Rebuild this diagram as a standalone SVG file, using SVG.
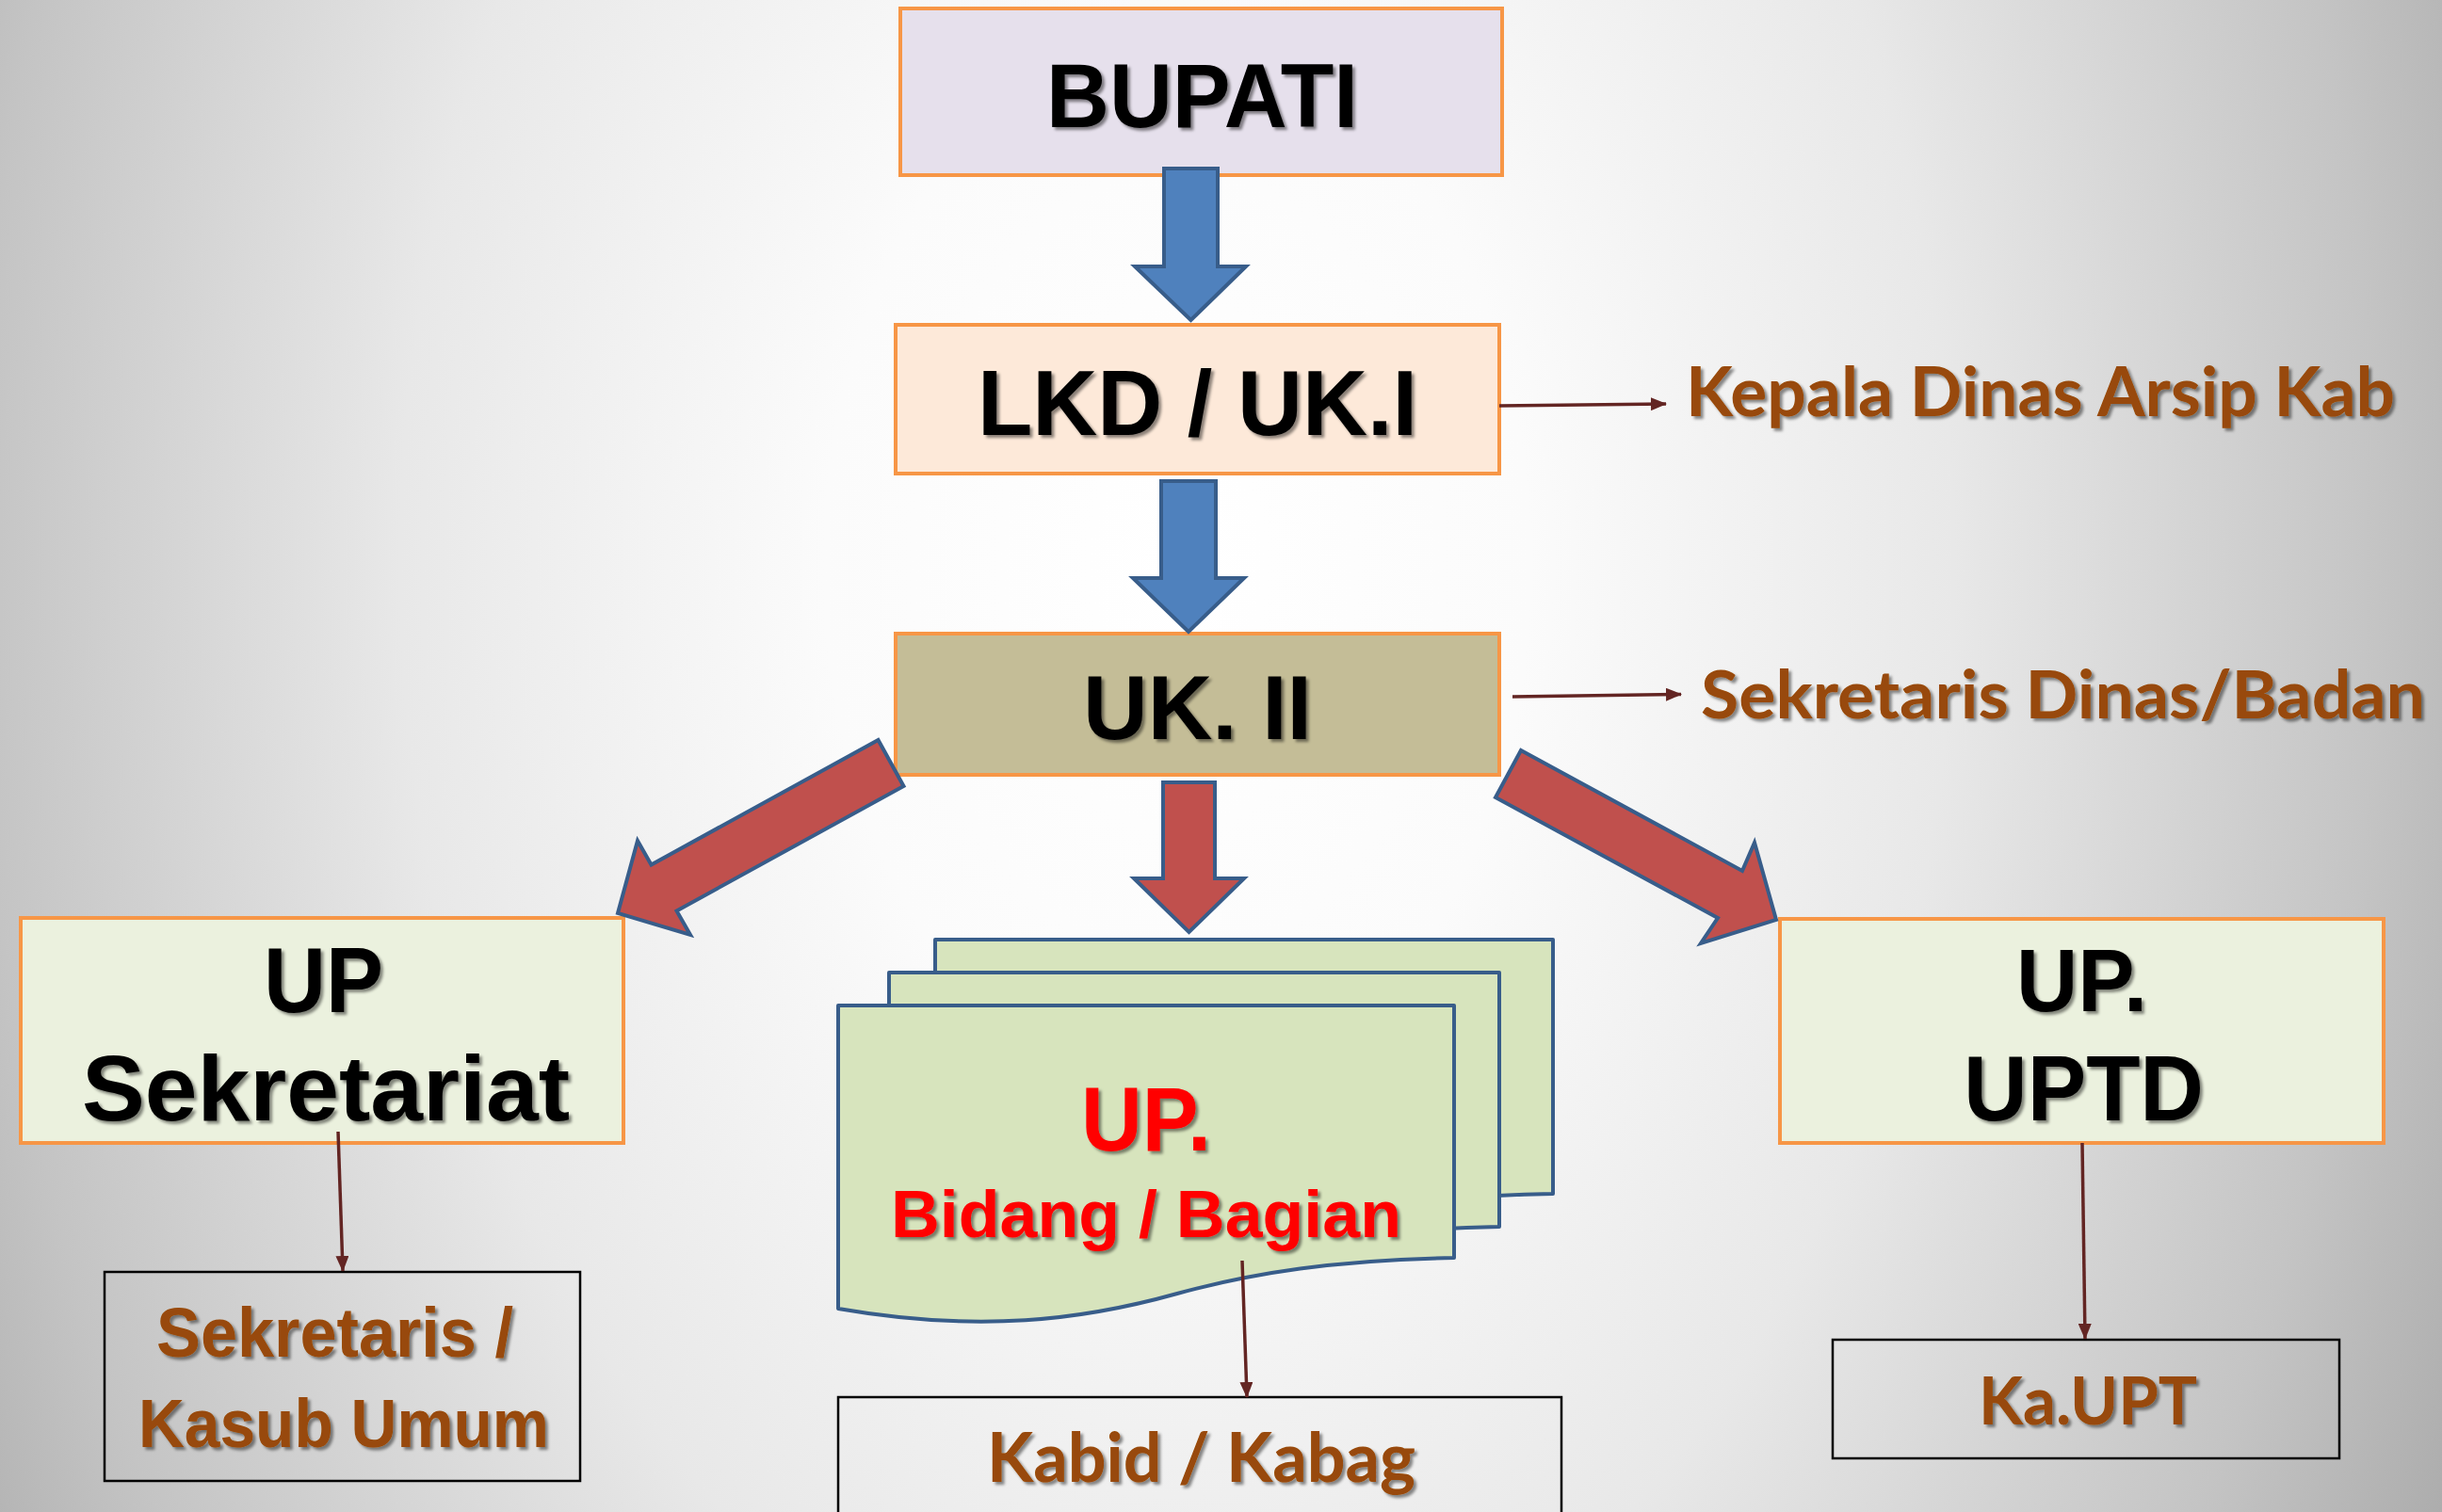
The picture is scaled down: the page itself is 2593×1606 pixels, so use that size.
<svg xmlns="http://www.w3.org/2000/svg" width="2593" height="1606" viewBox="0 0 2593 1606">
  <defs>
    <radialGradient id="bg" gradientUnits="userSpaceOnUse" cx="1250" cy="600" r="1500" gradientTransform="translate(1250 600) scale(1 1.5) translate(-1250 -600)">
      <stop offset="0" stop-color="#ffffff"/>
      <stop offset="0.25" stop-color="#fbfbfb"/>
      <stop offset="0.55" stop-color="#e8e8e8"/>
      <stop offset="0.85" stop-color="#c4c4c4"/>
      <stop offset="1" stop-color="#adadad"/>
    </radialGradient>
    <filter id="shadow" x="-5%" y="-10%" width="115%" height="130%">
      <feDropShadow dx="3" dy="3" stdDeviation="1.6" flood-color="#000" flood-opacity="0.45"/>
    </filter>
    <marker id="head" markerUnits="userSpaceOnUse" markerWidth="17" markerHeight="14" refX="16" refY="7" orient="auto">
      <path d="M0 0 L17 7 L0 14 Z" fill="#632523"/>
    </marker>
    <style>
      .box-o { stroke: #f79646; stroke-width: 4; }
      .box-k { fill: none; stroke: #000; stroke-width: 2.5; }
      .t-main { font-family: "Liberation Sans", Arial, sans-serif; font-weight: bold; fill: #000; filter: url(#shadow); }
      .t-red { font-family: "Liberation Sans", Arial, sans-serif; font-weight: bold; fill: #ff0000; filter: url(#shadow); }
      .t-brown { font-family: "Liberation Sans", Arial, sans-serif; font-weight: bold; fill: #984807; filter: url(#shadow); }
      .t-cal { font-family: Lato, "Open Sans", sans-serif; font-weight: bold; fill: #984807; filter: url(#shadow); }
      .conn { stroke: #632523; stroke-width: 3.5; fill: none; marker-end: url(#head); }
      .arr-blue { fill: #4f81bd; stroke: #385d8a; stroke-width: 4; }
      .arr-red { fill: #c0504d; stroke: #385d8a; stroke-width: 4; }
      .page { fill: #d7e4bd; stroke: #385d8a; stroke-width: 4; stroke-linejoin: round; }
    </style>
  </defs>

  <!-- background -->
  <rect x="0" y="0" width="2593" height="1606" fill="url(#bg)"/>

  <!-- top chain -->
  <g id="bupati">
    <rect class="box-o" x="956" y="9" width="639" height="177" fill="#e6e0ec"/>
    <text class="t-main" x="1111" y="135" font-size="97" textLength="331" lengthAdjust="spacingAndGlyphs">BUPATI</text>
  </g>

  <g id="lkd">
    <rect class="box-o" x="951" y="345" width="641" height="158" fill="#fde9d9"/>
    <text class="t-main" x="1038" y="462" font-size="98" textLength="467" lengthAdjust="spacingAndGlyphs">LKD / UK.I</text>
  </g>

  <g id="uk2">
    <rect class="box-o" x="951" y="673" width="641" height="150" fill="#c4bd97"/>
    <text class="t-main" x="1150" y="785" font-size="96" textLength="243" lengthAdjust="spacingAndGlyphs">UK. II</text>
  </g>

  <!-- side labels -->
  <g id="label-kepala">
    <text class="t-cal" x="1790" y="442" font-size="72" textLength="753" lengthAdjust="spacingAndGlyphs">Kepala Dinas Arsip Kab</text>
  </g>
  <g id="label-sekdin">
    <text class="t-cal" x="1806" y="763" font-size="70" textLength="769" lengthAdjust="spacingAndGlyphs">Sekretaris Dinas/Badan</text>
  </g>

  <!-- unit boxes -->
  <g id="up-sekretariat">
    <rect class="box-o" x="22" y="975" width="640" height="239" fill="#ebf1de"/>
    <text class="t-main" x="280" y="1075" font-size="98" textLength="127" lengthAdjust="spacingAndGlyphs">UP</text>
    <text class="t-main" x="87" y="1190" font-size="98" textLength="518" lengthAdjust="spacingAndGlyphs">Sekretariat</text>
  </g>

  <g id="up-bidang">
    <path class="page" d="M993 998 H1649 V1268 C1525 1270 1435 1284 1355 1306 C1255 1334 1145 1348 993 1322 Z"/>
    <path class="page" d="M944 1033 H1592 V1303 C1468 1305 1378 1319 1298 1341 C1198 1369 1088 1383 944 1357 Z"/>
    <path class="page" d="M890 1068 H1544 V1336 C1420 1338 1330 1352 1250 1374 C1150 1402 1040 1416 890 1390 Z"/>
    <text class="t-red" x="1148" y="1222" font-size="96" textLength="138" lengthAdjust="spacingAndGlyphs">UP.</text>
    <text class="t-red" x="946" y="1314" font-size="71" textLength="542" lengthAdjust="spacingAndGlyphs">Bidang / Bagian</text>
  </g>

  <g id="up-uptd">
    <rect class="box-o" x="1890" y="976" width="641" height="238" fill="#ebf1de"/>
    <text class="t-main" x="2141" y="1074" font-size="95" textLength="139" lengthAdjust="spacingAndGlyphs">UP.</text>
    <text class="t-main" x="2085" y="1190" font-size="98" textLength="255" lengthAdjust="spacingAndGlyphs">UPTD</text>
  </g>

  <!-- officials -->
  <g id="sekretaris">
    <rect class="box-k" x="111" y="1351" width="505" height="222"/>
    <text class="t-brown" x="166" y="1441" font-size="75" textLength="379" lengthAdjust="spacingAndGlyphs">Sekretaris /</text>
    <text class="t-brown" x="147" y="1537" font-size="72" textLength="436" lengthAdjust="spacingAndGlyphs">Kasub Umum</text>
  </g>

  <g id="kabid">
    <rect class="box-k" x="890" y="1484" width="768" height="140"/>
    <text class="t-cal" x="1048" y="1574" font-size="72" textLength="455" lengthAdjust="spacingAndGlyphs">Kabid / Kabag</text>
  </g>

  <g id="kaupt">
    <rect class="box-k" x="1946" y="1423" width="538" height="126"/>
    <text class="t-cal" x="2101" y="1513" font-size="71" textLength="232" lengthAdjust="spacingAndGlyphs">Ka.UPT</text>
  </g>

  <!-- connectors -->
  <g id="connectors">
    <path class="arr-blue" d="M1236 179 H1293 V283 H1323 L1264.5 340 L1205 283 H1236 Z"/>
    <path class="arr-blue" d="M1233 511 H1291 V614 H1321 L1262 671 L1203 614 H1233 Z"/>
    <path class="arr-red" d="M1235 831 H1290 V933 H1321 L1262.5 990 L1204 933 H1235 Z"/>
    <path class="arr-red" d="M932.5 786 L959.5 835 L718.5 967.5 L733 993 L656 970 L677 893 L691.5 918.5 Z"/>
    <path class="arr-red" d="M1615 797 L1850 925 L1863 895 L1886 977 L1806 1002 L1824 975 L1588 847 Z"/>

    <line class="conn" x1="1592" y1="431" x2="1769" y2="429"/>
    <line class="conn" x1="1606" y1="740" x2="1785" y2="737.5"/>
    <line class="conn" x1="359" y1="1202" x2="364" y2="1350"/>
    <line class="conn" x1="1319" y1="1339" x2="1324" y2="1484"/>
    <line class="conn" x1="2211" y1="1214" x2="2214" y2="1422"/>
  </g>
</svg>
